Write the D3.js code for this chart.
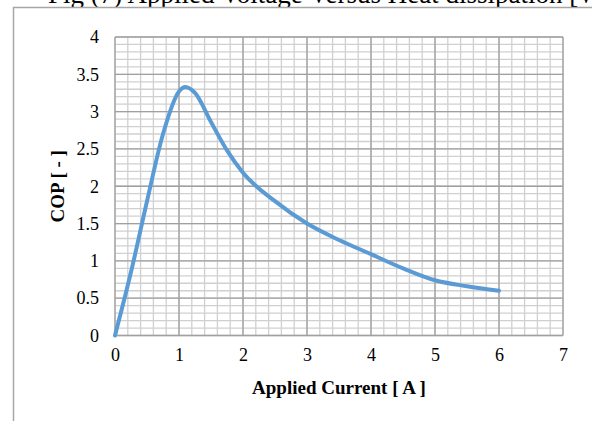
<!DOCTYPE html>
<html lang="en">
<head>
    <meta charset="UTF-8">
    <title>COP vs Applied Current</title>
    <script src="https://d3js.org/d3.v7.min.js"></script>
    <style>
        body { margin: 0; background: #fff; }
        svg { display: block; }
        text { font-family: "Liberation Serif", "Times New Roman", serif; fill: #000; }
    </style>
</head>
<body>
    <div id="chart"></div>

    <script>
        // values
        var current = [0, 0.25, 0.5, 0.75, 1.0, 1.1, 1.25, 1.5, 1.75, 2, 2.5, 3, 3.5, 4, 4.5, 5, 5.5, 6];
        var cop = [0, 0.85, 1.8, 2.7, 3.27, 3.33, 3.25, 2.86, 2.48, 2.18, 1.8, 1.5, 1.28, 1.09, 0.9, 0.74, 0.66, 0.6];
        var xTicks = [0, 1, 2, 3, 4, 5, 6, 7];
        var yTicks = [0, 0.5, 1, 1.5, 2, 2.5, 3, 3.5, 4];

        var data = current.map(function (c, i) { return { x: c, y: cop[i] }; });

        var W = 592, H = 421;
        var margin = { top: 37, right: 29, bottom: 85.5, left: 115 },
            width = W - margin.left - margin.right,
            height = H - margin.top - margin.bottom;

        var serif = "'Liberation Serif', 'Times New Roman', serif";

        var root = d3.select("#chart").append("svg")
            .attr("width", W)
            .attr("height", H);

        // title, mostly cut off at the top
        root.append("text")
            .attr("x", 48)
            .attr("y", 3)
            .style("font-family", serif)
            .style("font-size", "27px")
            .text("Fig (7) Applied Voltage Versus Heat dissipation [W]");

        // chart area border
        root.append("rect")
            .attr("x", 13.5)
            .attr("y", 7.5)
            .attr("width", 700)
            .attr("height", 500)
            .attr("fill", "#fff")
            .attr("stroke", "#a6a6a6")
            .attr("stroke-width", 1.5);

        var svg = root.append("g")
            .attr("transform", "translate(" + margin.left + "," + margin.top + ")");

        var x = d3.scaleLinear().domain([0, 7]).range([0, width]);
        var y = d3.scaleLinear().domain([0, 4]).range([height, 0]);

        // minor grid
        svg.append("g")
            .attr("stroke", "#d0d0d0")
            .attr("stroke-width", 1.3)
            .call(function (g) {
                g.selectAll(".vx").data(d3.range(0, 7.01, 0.2)).enter().append("line")
                    .attr("x1", function (d) { return x(d); })
                    .attr("x2", function (d) { return x(d); })
                    .attr("y1", 0).attr("y2", height);
                g.selectAll(".hy").data(d3.range(0, 4.01, 0.1)).enter().append("line")
                    .attr("y1", function (d) { return y(d); })
                    .attr("y2", function (d) { return y(d); })
                    .attr("x1", 0).attr("x2", width);
            });

        // major grid
        svg.append("g")
            .attr("stroke", "#a0a0a0")
            .attr("stroke-width", 1.3)
            .call(function (g) {
                g.selectAll(".vx").data(xTicks).enter().append("line")
                    .attr("x1", function (d) { return x(d); })
                    .attr("x2", function (d) { return x(d); })
                    .attr("y1", 0).attr("y2", height);
                g.selectAll(".hy").data(yTicks).enter().append("line")
                    .attr("y1", function (d) { return y(d); })
                    .attr("y2", function (d) { return y(d); })
                    .attr("x1", 0).attr("x2", width);
            });

        // axes (labels only, grid does the lines)
        var xAxis = svg.append("g")
            .attr("transform", "translate(0," + height + ")")
            .call(d3.axisBottom(x).tickValues(xTicks).tickSize(0).tickPadding(13).tickFormat(d3.format("d")));
        var yAxis = svg.append("g")
            .call(d3.axisLeft(y).tickValues(yTicks).tickSize(0).tickPadding(16).tickFormat(function (d) { return d; }));
        [xAxis, yAxis].forEach(function (a) {
            a.attr("font-family", null).attr("font-size", null);
            a.select(".domain").remove();
            a.selectAll("text")
                .style("font-family", serif)
                .style("font-size", "18px")
                .style("fill", "#000");
        });

        // series
        var line = d3.line()
            .x(function (d) { return x(d.x); })
            .y(function (d) { return y(d.y); })
            .curve(d3.curveMonotoneX);

        svg.append("path")
            .datum(data)
            .attr("fill", "none")
            .attr("stroke", "#5b9bd5")
            .attr("stroke-width", 4)
            .attr("stroke-linecap", "round")
            .attr("stroke-linejoin", "round")
            .attr("d", line);

        // axis titles
        svg.append("text")
            .attr("x", width / 2)
            .attr("y", height + 58)
            .attr("text-anchor", "middle")
            .style("font-family", serif)
            .style("font-weight", "bold")
            .style("font-size", "19px")
            .text("Applied Current [ A ]");

        svg.append("text")
            .attr("transform", "translate(" + (-51) + "," + (height / 2) + ") rotate(-90)")
            .attr("text-anchor", "middle")
            .style("font-family", serif)
            .style("font-weight", "bold")
            .style("font-size", "19px")
            .text("COP [ - ]");
    </script>
</body>
</html>
